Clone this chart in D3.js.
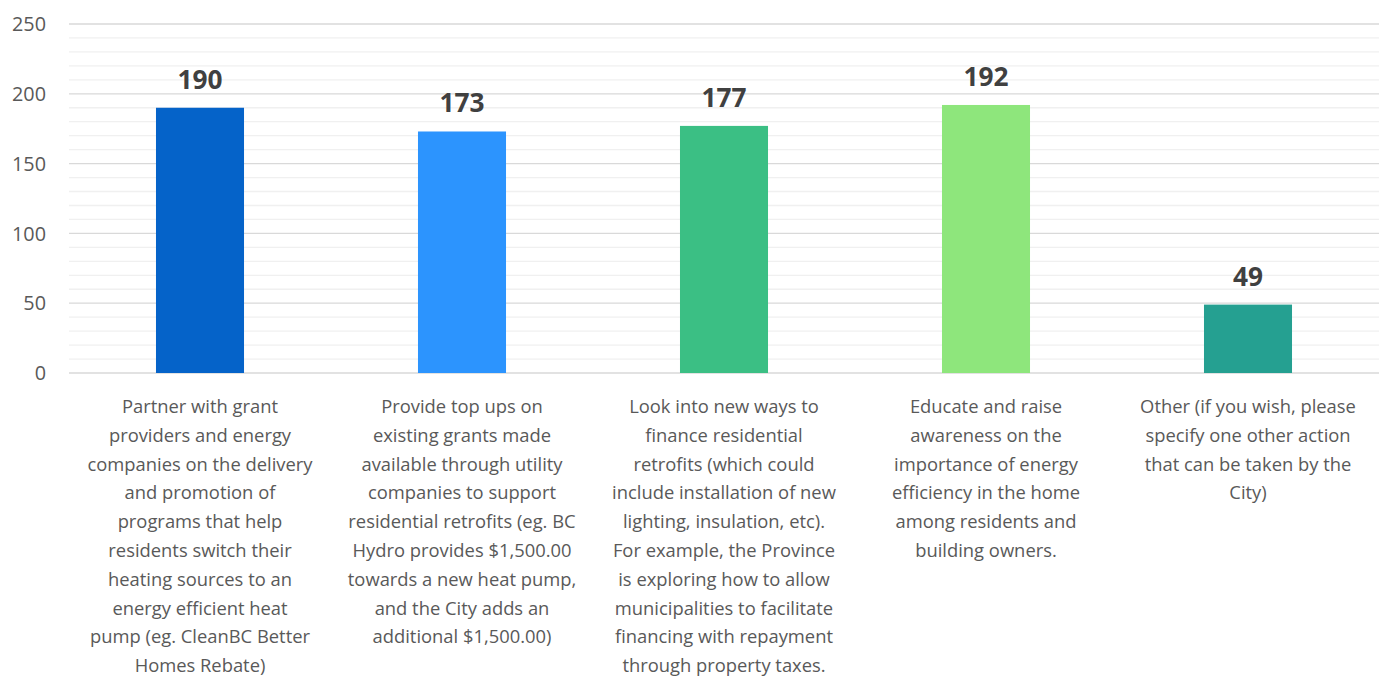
<!DOCTYPE html>
<html><head><meta charset="utf-8">
<script src="https://cdn.jsdelivr.net/npm/d3@7"></script>
<style>body{margin:0;background:#fff;} svg{display:block;font-family:"Open Sans",sans-serif;}</style>
</head><body>
<script>
const categories = ["c1","c2","c3","c4","c5"];
const values = [190, 173, 177, 192, 49];
const colors = ["#0563C9", "#2C94FE", "#3BBF84", "#8EE67C", "#25A091"];
const labelLines = [
  ["Partner with grant","providers and energy","companies on the delivery","and promotion of","programs that help","residents switch their","heating sources to an","energy efficient heat","pump (eg. CleanBC Better","Homes Rebate)"],
  ["Provide top ups on","existing grants made","available through utility","companies to support","residential retrofits (eg. BC","Hydro provides $1,500.00","towards a new heat pump,","and the City adds an","additional $1,500.00)"],
  ["Look into new ways to","finance residential","retrofits (which could","include installation of new","lighting, insulation, etc).","For example, the Province","is exploring how to allow","municipalities to facilitate","financing with repayment","through property taxes."],
  ["Educate and raise","awareness on the","importance of energy","efficiency in the home","among residents and","building owners."],
  ["Other (if you wish, please","specify one other action","that can be taken by the","City)"]
];
const yTicks = [0, 50, 100, 150, 200, 250];
const minorTicks = d3.range(0, 251, 10);

const W = 1387, H = 679;
const svg = d3.select("body").append("svg").attr("width", W).attr("height", H);
const x = d3.scaleBand().domain(categories).range([69, 1379]).padding(0);
const y = d3.scaleLinear().domain([0, 250]).range([373, 24]);
const barW = x.bandwidth() * 0.336;

function fitSize(str, weight, targetW) {
  const t = svg.append("text").attr("font-size", 100).attr("font-weight", weight).text(str);
  const w = t.node().getComputedTextLength();
  t.remove();
  return 100 * targetW / w;
}
const catFont = fitSize("companies on the delivery", "normal", 225);
const tickFont = fitSize("250", "normal", 34);
const valFont = fitSize("190", "bold", 45);

svg.append("g").selectAll("line").data(minorTicks.filter(t => t % 50 !== 0)).join("line")
  .attr("x1", 69).attr("x2", 1379).attr("y1", d => y(d)).attr("y2", d => y(d))
  .attr("stroke", "#f0f0f0").attr("stroke-width", 1.3);
svg.append("g").selectAll("line").data(yTicks).join("line")
  .attr("x1", 69).attr("x2", 1379).attr("y1", d => y(d)).attr("y2", d => y(d))
  .attr("stroke", "#d9d9d9").attr("stroke-width", 1.3);

svg.append("g").selectAll("text").data(yTicks).join("text")
  .attr("x", 46).attr("y", d => y(d) + tickFont * 0.36).attr("text-anchor", "end")
  .attr("fill", "#595959").attr("font-size", tickFont).text(d => d);

svg.append("g").selectAll("rect").data(values).join("rect")
  .attr("x", (d, i) => x(categories[i]) + (x.bandwidth() - barW) / 2)
  .attr("width", barW)
  .attr("y", d => y(d)).attr("height", d => y(0) - y(d))
  .attr("fill", (d, i) => colors[i]);

svg.append("g").selectAll("text").data(values).join("text")
  .attr("x", (d, i) => x(categories[i]) + x.bandwidth() / 2)
  .attr("y", d => y(d) - 19).attr("text-anchor", "middle")
  .attr("fill", "#404040").attr("font-size", valFont).attr("font-weight", "bold").text(d => d);

const lg = svg.append("g");
labelLines.forEach((lines, i) => {
  const t = lg.append("text").attr("text-anchor", "middle").attr("fill", "#595959").attr("font-size", catFont);
  lines.forEach((l, j) => {
    t.append("tspan").attr("x", x(categories[i]) + x.bandwidth() / 2).attr("y", 413 + j * 28.8).text(l);
  });
});
</script>
</body></html>
